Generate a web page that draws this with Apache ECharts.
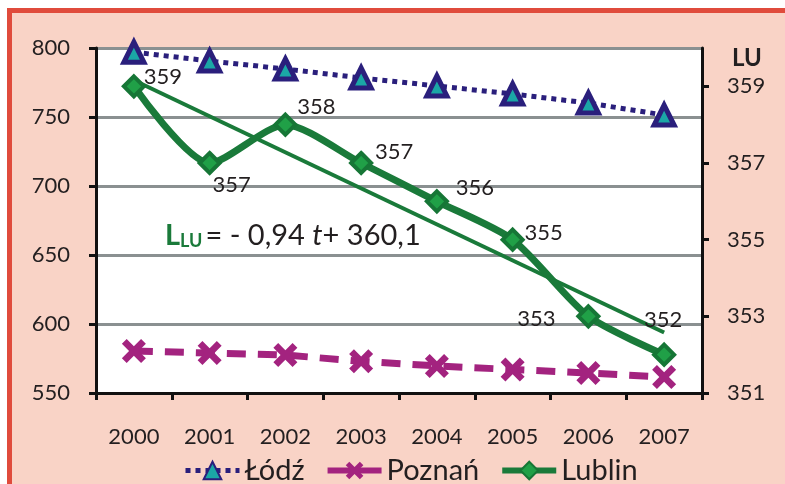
<!DOCTYPE html>
<html>
<head>
<meta charset="utf-8">
<script src="https://cdn.jsdelivr.net/npm/echarts@6/dist/echarts.min.js"></script>
<style>html,body{margin:0;padding:0;background:#fff}#c{width:785px;height:484px}</style>
</head>
<body>
<div id="c"></div>
<script>
const years = ['2000','2001','2002','2003','2004','2005','2006','2007'];
const lodz = [797, 790.6, 784.8, 778.3, 772.5, 766.7, 760.1, 751.4];
const poznan = [580.4, 579, 577.5, 573, 569.6, 567, 564.5, 561.6];
const lublin = [359, 357, 358, 357, 356, 355, 353, 352];
const trend = [359.16, null, null, null, null, null, null, 352.58];
const seriesNames = ['Łódź', 'Poznań', 'Lublin'];

const FONT = 'Lato, "Open Sans", sans-serif';
const TXT = '#231F20';
const GREEN = '#1A7A3A';
const labelOffsets = [[29,-9],[22,22],[31,-18],[33,-11],[38,-13],[31,-7],[-52,3],[-1,-35]];
const legendLine = [
  {type: [5, 5], width: 5, color: '#2A1F7C'},
  {type: 'solid', width: 6, color: '#A3237F'},
  {type: 'solid', width: 6, color: GREEN}
];

const chart = echarts.init(document.getElementById('c'));
chart.setOption({
  animation: false,
  textStyle: {fontFamily: FONT, color: TXT},
  graphic: [
    {type: 'rect', z: -100, shape: {x: 9.5, y: 10.5, width: 800, height: 500},
     style: {fill: '#F9D3C6', stroke: '#E04B3C', lineWidth: 5}},
    {type: 'text', left: 165, top: 221, z: 10,
     style: {
       text: '{L|L}{s|LU}{n|= - 0,94 }{t|t}{n|+ 360,1}',
       rich: {
         L: {fontFamily: FONT, fontSize: 29, fontWeight: 'bold', fill: GREEN, color: GREEN},
         s: {fontFamily: FONT, fontSize: 18, fontWeight: 'bold', fill: GREEN, color: GREEN, padding: [12,3,0,0]},
         n: {fontFamily: FONT, fontSize: 29, fill: TXT, color: TXT},
         t: {fontFamily: FONT, fontSize: 29, fontStyle: 'italic', fill: TXT, color: TXT}
       }
     }}
  ],
  grid: {left: 96, right: 83, top: 48, bottom: 91, show: true, backgroundColor: '#ffffff', borderWidth: 0},
  legend: {
    data: seriesNames.map((n, i) => ({name: n, lineStyle: legendLine[i]})),
    left: 178, top: 451, itemWidth: 54, itemHeight: 22, itemGap: 20,
    textStyle: {fontSize: 29, color: TXT, fontFamily: FONT}
  },
  xAxis: {
    type: 'category', data: years, boundaryGap: true,
    axisLine: {lineStyle: {color: '#111', width: 3}},
    axisTick: {show: true, length: 7, lineStyle: {color: '#111', width: 3}},
    axisLabel: {fontSize: 22, color: TXT, margin: 33, fontFamily: FONT}
  },
  yAxis: [
    {type: 'value', min: 550, max: 800, interval: 50, position: 'left',
     axisLine: {show: true, lineStyle: {color: '#111', width: 3}},
     axisTick: {show: true, length: 7, lineStyle: {color: '#111', width: 3}},
     splitLine: {show: true, lineStyle: {color: '#8A9091', width: 3}},
     axisLabel: {fontSize: 22, color: TXT, margin: 26, fontFamily: FONT}},
    {type: 'value', min: 351, max: 360, interval: 2, position: 'right',
     name: 'LU', nameLocation: 'end', nameGap: -22,
     nameTextStyle: {fontSize: 24, fontWeight: 'bold', color: TXT, align: 'left', verticalAlign: 'bottom', padding: [0,0,0,30], fontFamily: FONT},
     axisLine: {show: true, lineStyle: {color: '#111', width: 3}},
     axisTick: {show: true, length: 7, lineStyle: {color: '#111', width: 3}},
     splitLine: {show: false},
     axisLabel: {fontSize: 22, color: TXT, margin: 25, showMaxLabel: false, fontFamily: FONT}}
  ],
  series: [
    {name: 'Łódź', type: 'line', yAxisIndex: 0, data: lodz,
     symbol: 'triangle', symbolSize: 20,
     lineStyle: {type: [5, 5], width: 5, color: '#2A1F7C'},
     itemStyle: {color: '#1BA7A6', borderColor: '#2A1F7C', borderWidth: 5}, z: 3},
    {name: 'Poznań', type: 'line', yAxisIndex: 0, data: poznan,
     symbol: 'path://M0,2 L2,0 L5,3 L8,0 L10,2 L7,5 L10,8 L8,10 L5,7 L2,10 L0,8 L3,5 Z', symbolSize: 24,
     lineStyle: {type: [19, 12], width: 7, color: '#A3237F'},
     itemStyle: {color: '#A3237F'}, z: 3},
    {name: 'Lublin', type: 'line', yAxisIndex: 1, smooth: 0.25,
     data: lublin.map((v, i) => ({value: v, label: {offset: labelOffsets[i]}})),
     symbol: 'diamond', symbolSize: 20,
     lineStyle: {width: 7, color: GREEN},
     itemStyle: {color: '#20A047', borderColor: '#167636', borderWidth: 4},
     label: {show: true, position: 'inside', fontSize: 22, color: TXT, fontFamily: FONT},
     z: 4},
    {name: 'trend', type: 'line', yAxisIndex: 1, data: trend, connectNulls: true,
     symbol: 'none', lineStyle: {width: 4, color: GREEN}, silent: true, z: 2}
  ]
});
</script>
</body>
</html>
